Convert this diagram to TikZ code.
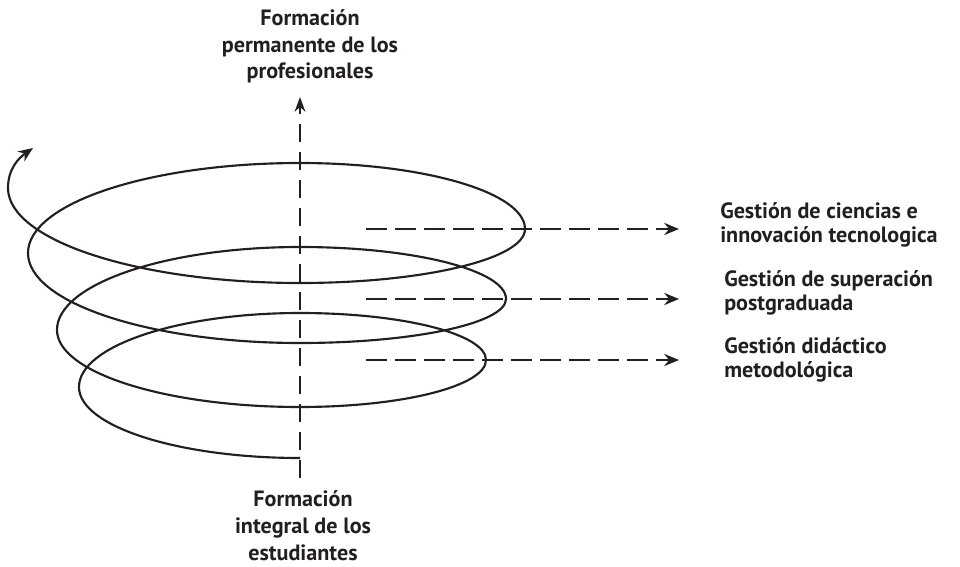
\documentclass[tikz,border=0pt]{standalone}
\usepackage{fontspec}
\setmainfont{PT Sans}
\usetikzlibrary{arrows.meta}
\definecolor{ink}{HTML}{231F20}
\begin{document}
\begin{tikzpicture}[x=0.75pt,y=0.75pt,
  lbl/.style={font=\bfseries\fontsize{16.6}{17.5}\selectfont, inner sep=0pt, text=ink},
  lblc/.style={lbl, font=\bfseries\fontsize{16.6}{20}\selectfont, align=center},
  spiral/.style={line width=1.6pt, draw=ink},
  axis/.style={line width=1.9pt, draw=ink, dash pattern=on 13.5pt off 7.5pt, -{Stealth[length=11pt,width=8pt]}},
  flow/.style={line width=2.2pt, draw=ink, dash pattern=on 15.75pt off 6pt, -{Stealth[length=11pt,width=9pt]}},
]
\useasboundingbox (0,0) rectangle (960,-567);

% axis
\coordinate (ax0) at (300,-478);
\coordinate (ax1) at (300,-97);
\draw[axis] (ax0) -- (ax1);

% spiral
\coordinate (sp0) at (300,-458);
\coordinate (sptip) at (33,-148);
\draw[spiral, -{Stealth[length=11pt,width=9pt]}] (sp0)
  arc[start angle=270, end angle=180, x radius=221, y radius=71]
  arc[start angle=180, end angle=90, x radius=221, y radius=74]
  arc[start angle=90, end angle=0, x radius=186, y radius=47]
  arc[start angle=0, end angle=-90, x radius=186, y radius=47]
  arc[start angle=270, end angle=180, x radius=243, y radius=77]
  arc[start angle=180, end angle=90, x radius=243, y radius=83]
  arc[start angle=90, end angle=0, x radius=206, y radius=52]
  arc[start angle=0, end angle=-90, x radius=206, y radius=44]
  arc[start angle=270, end angle=180, x radius=272, y radius=90]
  arc[start angle=180, end angle=90, x radius=272, y radius=90]
  arc[start angle=90, end angle=0, x radius=225, y radius=66]
  arc[start angle=0, end angle=-90, x radius=225, y radius=54]
  arc[start angle=270, end angle=180, x radius=292, y radius=95]
  to[out=90, in=215] (sptip);

% flow arrows
\coordinate (f1s) at (366,-229); \coordinate (f1e) at (679,-229);
\coordinate (f2s) at (366,-299); \coordinate (f2e) at (679,-299);
\coordinate (f3s) at (366,-360); \coordinate (f3e) at (679,-360);
\draw[flow] (f1s) -- (f1e);
\draw[flow] (f2s) -- (f2e);
\draw[flow] (f3s) -- (f3e);

% labels (base anchor = baseline of last line)
\node[lbl, anchor=base west, align=left] (g1) at (720,-242) {Gestión de ciencias e\\innovación tecnologica};
\node[lbl, anchor=base west, align=left] (g2) at (724,-310) {Gestión de superación\\postgraduada};
\node[lbl, anchor=base west, align=left] (g3) at (724,-377) {Gestión didáctico\\metodológica};
\node[lblc, anchor=base] (top) at (310,-79) {Formación\\permanente de los\\profesionales};
\node[lblc, anchor=base] (bot) at (303,-560) {Formación\\integral de los\\estudiantes};
\end{tikzpicture}
\end{document}
